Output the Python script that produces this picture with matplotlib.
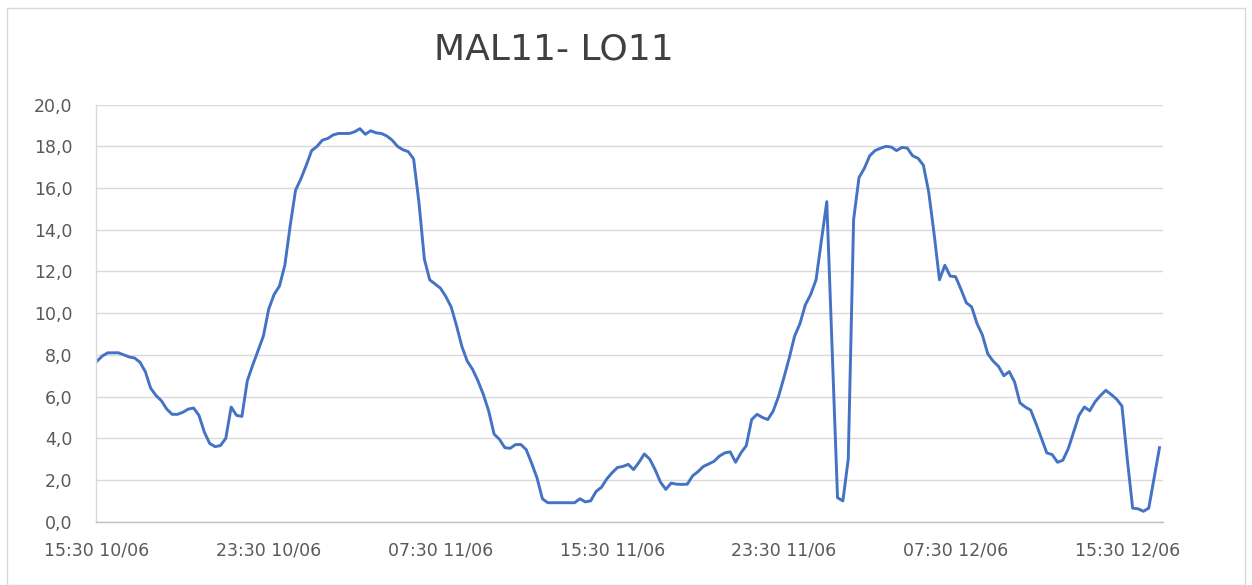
import matplotlib
matplotlib.use("Agg")
import matplotlib.pyplot as plt
import pandas as pd
from matplotlib.patches import Rectangle

title = "MAL11- LO11"
start = "2021-06-10 15:30"
freq = "15min"

values = [
    7.7, 7.95, 8.1, 8.1, 8.1, 8.0, 7.9, 7.85, 7.65, 7.2,
    6.4, 6.05, 5.8, 5.4, 5.15, 5.15, 5.25, 5.4, 5.45, 5.1,
    4.3, 3.75, 3.6, 3.65, 4.0, 5.5, 5.1, 5.05, 6.75, 7.5,
    8.2, 8.9, 10.2, 10.9, 11.3, 12.3, 14.2, 15.9, 16.45, 17.1,
    17.8, 18.0, 18.3, 18.38, 18.55, 18.62, 18.62, 18.62, 18.7, 18.85,
    18.58, 18.75, 18.65, 18.62, 18.5, 18.3, 18.0, 17.84, 17.75, 17.4,
    15.3, 12.6, 11.6, 11.4, 11.2, 10.8, 10.3, 9.4, 8.4, 7.7,
    7.3, 6.75, 6.1, 5.3, 4.2, 3.95, 3.55, 3.52, 3.7, 3.7,
    3.45, 2.8, 2.1, 1.1, 0.91, 0.91, 0.91, 0.91, 0.91, 0.91,
    1.1, 0.95, 1.0, 1.45, 1.65, 2.05, 2.35, 2.6, 2.65, 2.75,
    2.5, 2.85, 3.25, 3.0, 2.5, 1.9, 1.55, 1.85, 1.8, 1.79,
    1.8, 2.2, 2.4, 2.65, 2.77, 2.9, 3.15, 3.3, 3.35, 2.85,
    3.3, 3.65, 4.9, 5.15, 5.0, 4.9, 5.3, 6.0, 6.9, 7.85,
    8.9, 9.5, 10.4, 10.9, 11.6, 13.5, 15.35, 8.3, 1.15, 1.0,
    3.0, 14.5, 16.5, 16.95, 17.55, 17.8, 17.91, 18.0, 17.97, 17.8,
    17.95, 17.92, 17.55, 17.43, 17.1, 15.8, 13.8, 11.6, 12.3, 11.78,
    11.75, 11.15, 10.5, 10.3, 9.5, 8.95, 8.05, 7.7, 7.45, 7.0,
    7.2, 6.7, 5.7, 5.5, 5.35, 4.7, 4.0, 3.3, 3.22, 2.85,
    2.95, 3.5, 4.3, 5.1, 5.5, 5.32, 5.75, 6.05, 6.3, 6.1,
    5.88, 5.55, 3.0, 0.65, 0.62, 0.5, 0.65, 2.1, 3.55,
]

y_ticks = [0, 2, 4, 6, 8, 10, 12, 14, 16, 18, 20]
label_step = 32

times = pd.date_range(start=start, periods=len(values), freq=freq)
idx = list(range(len(values)))

W, H = 1252, 585
fig = plt.figure(figsize=(W / 100, H / 100), dpi=100)
fig.patch.set_facecolor("white")

# outer chart border
fig.patches.append(Rectangle((7 / W, 0.0), (1245 - 7) / W, (H - 8) / H,
                             transform=fig.transFigure, fill=False,
                             edgecolor="#d9d9d9", linewidth=1.0))

ax = fig.add_axes([96 / W, (H - 521.7) / H, (1162.7 - 96) / W, (521.7 - 104.7) / H])
ax.plot(idx, values, color="#4472C4", linewidth=2.1, solid_joinstyle="round")

ax.set_xlim(-0.19, 198.6)
ax.set_ylim(0, 20)
ax.set_yticks(y_ticks)
ax.set_yticklabels([f"{v:.1f}".replace(".", ",") for v in y_ticks])

tick_pos = idx[::label_step]
ax.set_xticks(tick_pos)
ax.set_xticklabels([times[i].strftime("%H:%M %d/%m") for i in tick_pos])

ax.grid(axis="y", color="#d9d9d9", linewidth=1.0)
ax.set_axisbelow(True)
for s in ["top", "right"]:
    ax.spines[s].set_visible(False)
ax.spines["left"].set_color("#d9d9d9")
ax.spines["bottom"].set_color("#bfbfbf")
ax.spines["left"].set_linewidth(1.0)
ax.spines["bottom"].set_linewidth(1.0)
ax.tick_params(axis="both", length=0, colors="#595959", labelsize=12.5)
ax.tick_params(axis="y", pad=17)
ax.tick_params(axis="x", pad=14)

fig.text(554 / W, 1 - 50 / H, title, ha="center", va="center",
         fontsize=26, color="#404040")

fig.savefig("out.png", dpi=100)
